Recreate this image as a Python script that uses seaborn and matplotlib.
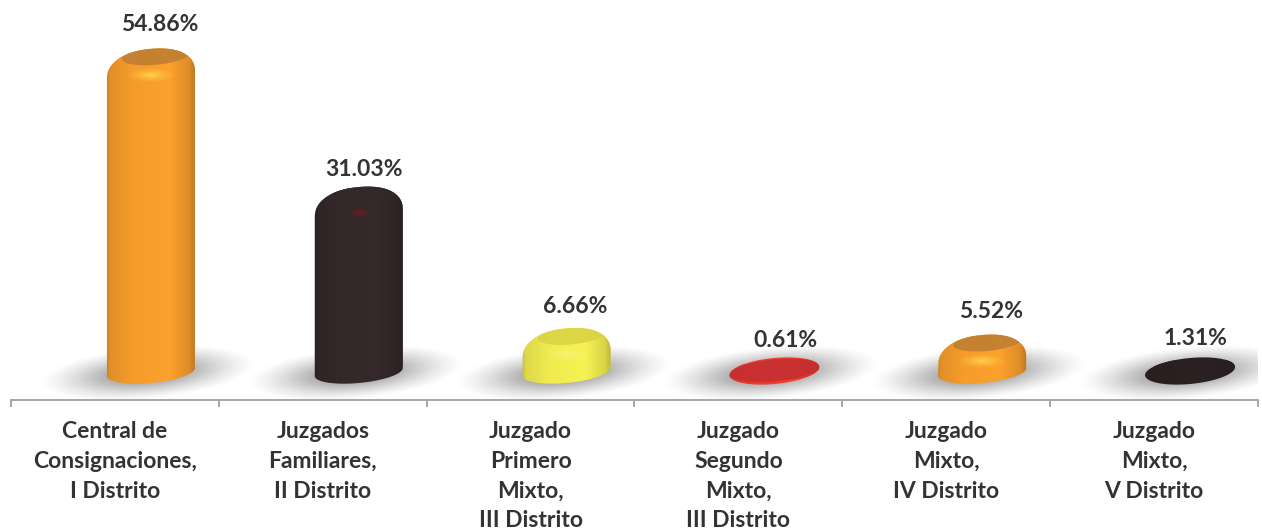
import numpy as np
import pandas as pd
import matplotlib
matplotlib.use("Agg")
import matplotlib.pyplot as plt
from matplotlib.colors import to_rgb
from matplotlib.patches import PathPatch
from matplotlib.path import Path
import seaborn as sns

# Datos
juzgados = [
    "Central de\nConsignaciones,\nI Distrito",
    "Juzgados\nFamiliares,\nII Distrito",
    "Juzgado\nPrimero\nMixto,\nIII Distrito",
    "Juzgado\nSegundo\nMixto,\nIII Distrito",
    "Juzgado\nMixto,\nIV Distrito",
    "Juzgado\nMixto,\nV Distrito",
]
porcentajes = [54.86, 31.03, 6.66, 0.61, 5.52, 1.31]
etiquetas = ["54.86%", "31.03%", "6.66%", "0.61%", "5.52%", "1.31%"]
colores = ["#F59C2C", "#33282A", "#EFEB50", "#F03A28", "#F59C2C", "#2A2022"]
caras = ["#BF7F32", "#33282A", "#DAD344", "#C42F33", "#BF7F32", "#2A2022"]
brillos = ["#FFD84A", "#8A1518", "#F8F47A", "#C42F33", "#FFD84A", "#2A2022"]

# Escala en pixeles
W, H = 1262, 531
EJE_IZQ, EJE_DER, EJE_Y = 11, 1258, 400
CERO_Y = 367
PX_POR_PCT = 5.8
PX_POR_CAT = (EJE_DER - EJE_IZQ) / 6
SX = 1 / PX_POR_CAT
SY = 1 / PX_POR_PCT
BASE = (372 - CERO_Y) * -SY  # centro de la elipse inferior

label_dx = [9, 5, 9, 11, 9, 5]
label_dy = [24, 18, 22, 23, 23, 21]
brillo_rx = [26, 13, 26, 0, 26, 0]
brillo_ry = [8, 4, 8, 0, 8, 0]

sns.set_style("white")
plt.rcParams["font.family"] = ["Lato", "DejaVu Sans"]

fig = plt.figure(figsize=(W / 100, H / 100), dpi=100)
ax = fig.add_axes([EJE_IZQ / W, 1 - EJE_Y / H, (EJE_DER - EJE_IZQ) / W, EJE_Y / H])

datos = pd.DataFrame({"juzgado": juzgados, "pct": porcentajes})
sns.barplot(data=datos, x="juzgado", y="pct", hue="juzgado", palette=colores,
            dodge=False, legend=False, width=88 / PX_POR_CAT, ax=ax, zorder=3)

ax.set_xlim(-0.5, 5.5)
ax.set_ylim(-(EJE_Y - CERO_Y) * SY, CERO_Y * SY)


def elipse(cx, cy, rx, ry, n=90, cizalla=0.09, potencia=1.0):
    # elipse inclinada, medidas en pixeles y centro en datos
    t = np.linspace(0, 2 * np.pi, n)
    x = rx * np.sign(np.cos(t)) * np.abs(np.cos(t)) ** potencia
    y = ry * np.sign(np.sin(t)) * np.abs(np.sin(t)) ** potencia + cizalla * x
    return cx + x * SX, cy + y * SY


def silueta(cx, tope, rx=44):
    # contorno del cilindro: base eliptica y remate redondeado
    xb, yb = elipse(cx, BASE, rx, 11)
    cy_tope = tope - 26 * SY
    if cy_tope <= BASE:
        return np.column_stack(elipse(cx, BASE + 1 * SY, rx + 1, 13)), True
    xt, yt = elipse(cx, cy_tope, rx, 26, potencia=0.9)
    inf = np.column_stack([xb[45:], yb[45:]])   # mitad inferior
    sup = np.column_stack([xt[:46], yt[:46]])   # mitad superior
    return np.vstack([inf, sup]), False


def sombra(cx):
    xs = np.linspace(cx - 125 * SX, cx + 125 * SX, 260)
    ys = np.linspace(BASE - 36 * SY, BASE + 36 * SY, 80)
    xx, yy = np.meshgrid(xs, ys)
    px = (xx - cx + 3 * SX) / SX
    py = (yy - BASE + 1 * SY) / SY - 0.09 * px
    r = np.sqrt((px / 108) ** 2 + (py / 27) ** 2)
    a = np.clip((1 - r) / 0.75, 0, 1)
    a = a ** 1.3 * 0.68
    img = np.zeros(xx.shape + (4,))
    img[..., :3] = 0.42
    img[..., 3] = a
    ax.imshow(img, extent=(xs[0], xs[-1], ys[0], ys[-1]), origin="lower",
              aspect="auto", zorder=1, interpolation="bilinear")


def degradado(c):
    r = np.array(to_rgb(c))
    pos = [0, 0.05, 0.3, 0.7, 0.92, 1]
    fac = [0.78, 0.92, 1.0, 1.03, 0.9, 0.74]
    t = np.linspace(0, 1, 120)
    f = np.interp(t, pos, fac)
    return np.clip(f[None, :, None] * r[None, None, :], 0, 1)


for i, (barra, pct) in enumerate(zip([c[0] for c in ax.containers], porcentajes)):
    # las columnas 3D estan corridas a la derecha de la categoria
    barra.set_x(barra.get_x() + 36 * SX)
    cx = barra.get_x() + barra.get_width() / 2
    sombra(cx)

    contorno, plana = silueta(cx, pct)
    clip = PathPatch(Path(contorno), transform=ax.transData, fc="none", ec="none")
    barra.set_clip_path(clip)

    x0, x1 = cx - 46 * SX, cx + 46 * SX
    y0, y1 = BASE - 16 * SY, pct + 2 * SY
    if plana:
        y1 = BASE + 18 * SY
    im = ax.imshow(degradado(colores[i]), extent=(x0, x1, y0, y1), origin="lower",
                   aspect="auto", zorder=4, interpolation="bilinear")
    im.set_clip_path(clip)

    # cara superior
    if plana:
        xc, yc = elipse(cx, BASE + 1.5 * SY, 44, 11)
    else:
        xc, yc = elipse(cx + 5 * SX, pct - 7 * SY, 34, 9)
    cara = ax.fill(xc, yc, color=caras[i], zorder=5, lw=0, alpha=0.9)[0]
    cara.set_clip_path(clip)

    # brillo del hombro
    if brillo_rx[i] > 0:
        rx, ry = brillo_rx[i], brillo_ry[i]
        yb = pct - 26 * SY
        xs = np.linspace(cx - rx * SX, cx + rx * SX, 80)
        ys = np.linspace(yb - ry * SY, yb + ry * SY, 40)
        xx, yy = np.meshgrid(xs, ys)
        r = np.sqrt(((xx - cx) / (rx * SX)) ** 2 + ((yy - yb) / (ry * SY)) ** 2)
        img = np.zeros(xx.shape + (4,))
        img[..., :3] = to_rgb(brillos[i])
        img[..., 3] = np.clip(1 - r, 0, 1) ** 1.3 * 0.9
        b = ax.imshow(img, extent=(xs[0], xs[-1], ys[0], ys[-1]), origin="lower",
                      aspect="auto", zorder=6, interpolation="bilinear")
        b.set_clip_path(clip)

    ax.annotate(etiquetas[i], xy=(cx, pct),
                xytext=(label_dx[i] * 0.72, label_dy[i] * 0.72), textcoords="offset points",
                ha="center", va="center", fontsize=16.5, fontweight="bold",
                color="#333333", zorder=7, annotation_clip=False)

# Eje de categorias con marcas entre columnas
ax.set_xlim(-0.5, 5.5)
ax.set_ylim(-(EJE_Y - CERO_Y) * SY, CERO_Y * SY)
ax.set_xlabel("")
ax.set_ylabel("")
ax.yaxis.set_visible(False)
for lado in ["top", "left", "right"]:
    ax.spines[lado].set_visible(False)
ax.spines["bottom"].set_color("#A6A6A6")
ax.spines["bottom"].set_linewidth(1.4)
ax.set_xticks(np.arange(-0.5, 6.0, 1.0))
ax.set_xticklabels([""] * 7)
ax.tick_params(axis="x", which="major", length=5, width=1.4, color="#A6A6A6", bottom=True)
ax.set_xticks(np.arange(6), minor=True)
ax.set_xticklabels(juzgados, minor=True, fontsize=16.5, fontweight="bold",
                   color="#333333", linespacing=1.52)
ax.tick_params(axis="x", which="minor", length=0, pad=15, bottom=True)
ax.patch.set_alpha(0)

fig.savefig("out.png", dpi=100, facecolor="white")
